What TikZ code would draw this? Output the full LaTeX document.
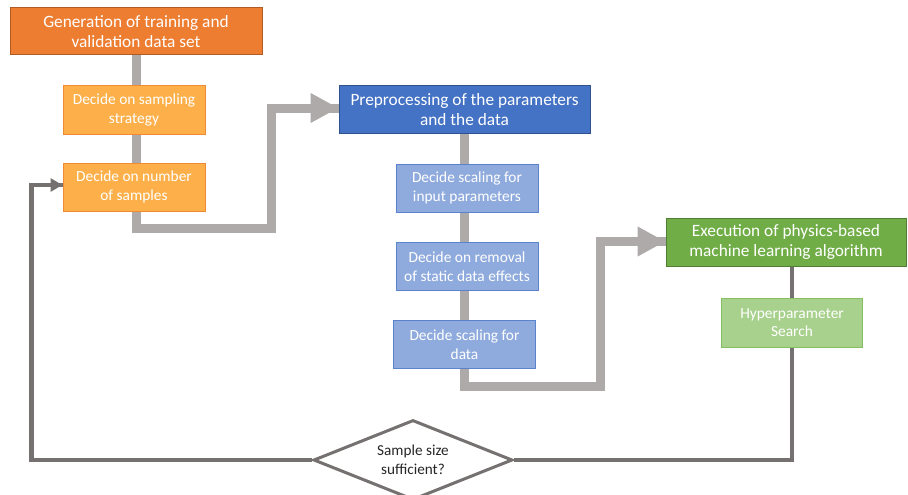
\documentclass[tikz,border=0pt]{standalone}
\usepackage{fontspec}
\setmainfont{Carlito}
\usetikzlibrary{arrows.meta,shapes.geometric,backgrounds}
\definecolor{orDark}{HTML}{ED7D31}
\definecolor{orDarkB}{HTML}{B15B22}
\definecolor{orLight}{HTML}{FDB04A}
\definecolor{orLightB}{HTML}{F08A33}
\definecolor{blDark}{HTML}{4472C4}
\definecolor{blDarkB}{HTML}{2F528F}
\definecolor{blLight}{HTML}{8FAADC}
\definecolor{blLightB}{HTML}{5B83CC}
\definecolor{grDark}{HTML}{70AD47}
\definecolor{grDarkB}{HTML}{507E32}
\definecolor{grLight}{HTML}{A9D18E}
\definecolor{grLightB}{HTML}{86BE62}
\definecolor{flowgray}{HTML}{AEAAAA}
\definecolor{loopgray}{HTML}{767171}
\tikzset{
  mainbox/.style={rectangle, draw=#1B, fill=#1, line width=1pt, text=white, align=center,
    inner sep=0pt, minimum height=47pt, font=\fontsize{17.3}{20.5}\selectfont},
  subbox/.style={rectangle, draw=#1B, fill=#1, line width=1pt, text=white, align=center,
    inner sep=0pt, minimum width=142pt, minimum height=48pt, font=\fontsize{15.4}{18.5}\selectfont},
  flowline/.style={draw=flowgray, line width=9pt, line join=miter},
  loopline/.style={draw=loopgray, line width=4.5pt, line join=miter},
  decisionbox/.style={diamond, aspect=2.5, draw=loopgray, fill=white, line width=3pt, inner sep=0pt,
    minimum width=199pt, minimum height=80pt, align=center, text=black!85,
    font=\fontsize{15.2}{19}\selectfont}
}
\begin{document}
\begin{tikzpicture}[x=1pt,y=-1pt]
\useasboundingbox (0,0) rectangle (908,495);
% main boxes
\node[mainbox=orDark, minimum width=252pt] (title) at (136,31.5) {Generation of training and\\validation data set};
\node[subbox=orLight] (sampling) at (134,110) {Decide on sampling\\strategy};
\node[subbox=orLight] (samples) at (134,187) {Decide on number\\of samples};
\node[mainbox=blDark, minimum width=251pt] (prep) at (464.5,109.5) {Preprocessing of the parameters\\and the data};
\node[subbox=blLight] (scalein) at (467,188) {Decide scaling for\\input parameters};
\node[subbox=blLight] (removal) at (467,266.5) {Decide on removal\\of static data effects};
\node[subbox=blLight] (scaledata) at (464.5,344.5) {Decide scaling for\\data};
\node[mainbox=grDark, minimum width=240pt, minimum height=48pt] (exec) at (786,242) {Execution of physics-based\\machine learning algorithm};
\node[subbox=grLight, minimum width=141pt, minimum height=49pt] (hyper) at (792,322.5) {Hyperparameter\\Search};
\node[decisionbox] (decide) at (413,460) {Sample size\\sufficient?};
% connectors
\begin{pgfonlayer}{background}
\draw[flowline] (title.south) -- (title.south |- samples.north);
\draw[flowline] (title.south |- samples.south) -- ++(0,17) -| ([xshift=-67pt]prep.west)
  |- ([yshift=1.5pt]prep.west);
\draw[flowline] (prep.south) -- (prep.south |- scaledata.north);
\draw[loopline] (hyper.north |- exec.south) |- (decide.east);
\draw[loopline] (decide.west) -| ([xshift=-31pt]samples.west) |- ([yshift=2pt]samples.west);
\draw[flowline] (prep.south |- scaledata.south) -- ++(0,17) -| ([xshift=-65pt]exec.west) |- ([yshift=0.5pt]exec.west);
\end{pgfonlayer}
% arrow heads (drawn on top of line ends)
\path[flowline, -{Triangle[length=28pt,width=28pt]}] ([xshift=-20pt,yshift=1.5pt]prep.west) -- ([yshift=1.5pt]prep.west);
\path[flowline, -{Triangle[length=28pt,width=28pt]}] ([xshift=-20pt,yshift=0.5pt]exec.west) -- ([yshift=0.5pt]exec.west);
\path[loopline, -{Triangle[length=12pt,width=13pt]}] ([xshift=-14pt,yshift=2pt]samples.west) -- ([yshift=2pt]samples.west);
\end{tikzpicture}
\end{document}
